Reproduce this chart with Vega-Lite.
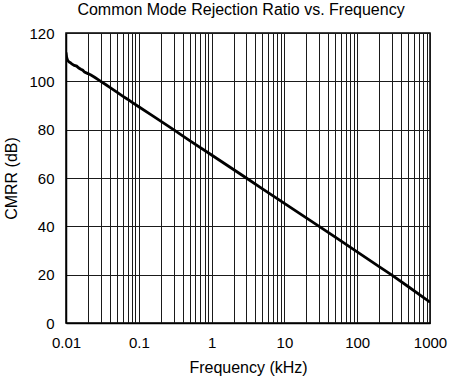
{
  "$schema": "https://vega.github.io/schema/vega-lite/v6.json",
  "width": 364,
  "height": 290,
  "autosize": "none",
  "padding": {"left": 66, "top": 33, "right": 19, "bottom": 56},
  "background": "white",
  "config": {
    "font": "Liberation Sans",
    "view": {"stroke": "black", "strokeWidth": 1.5},
    "axis": {
      "gridColor": "#1a1a1a",
      "gridWidth": 1,
      "gridOpacity": 1,
      "domainColor": "black",
      "domainWidth": 1.5,
      "ticks": false,
      "labelFont": "Liberation Sans",
      "labelFontSize": 15,
      "labelColor": "black",
      "titleFont": "Liberation Sans",
      "titleFontSize": 16,
      "titleFontWeight": "normal",
      "titleColor": "black"
    }
  },
  "title": {
    "text": "Common Mode Rejection Ratio vs. Frequency",
    "font": "Liberation Sans",
    "fontSize": 16,
    "fontWeight": "normal",
    "color": "black",
    "anchor": "middle",
    "dx": -7,
    "offset": 8
  },
  "data": {
    "values": [
      {"f": 0.01, "cmrr": 112.0},
      {"f": 0.0102, "cmrr": 110.0},
      {"f": 0.0105, "cmrr": 108.8},
      {"f": 0.011, "cmrr": 108.0},
      {"f": 0.0115, "cmrr": 107.7},
      {"f": 0.012, "cmrr": 107.2},
      {"f": 0.013, "cmrr": 106.6},
      {"f": 0.014, "cmrr": 106.3},
      {"f": 0.015, "cmrr": 105.5},
      {"f": 0.016, "cmrr": 105.0},
      {"f": 0.017, "cmrr": 104.6},
      {"f": 0.018, "cmrr": 103.8},
      {"f": 0.02, "cmrr": 103.2},
      {"f": 0.022, "cmrr": 102.6},
      {"f": 0.025, "cmrr": 101.6},
      {"f": 0.028, "cmrr": 100.6},
      {"f": 0.03, "cmrr": 100.0},
      {"f": 0.035, "cmrr": 98.7},
      {"f": 0.04, "cmrr": 97.5},
      {"f": 0.05, "cmrr": 95.5},
      {"f": 0.06, "cmrr": 93.9},
      {"f": 0.07, "cmrr": 92.6},
      {"f": 0.08, "cmrr": 91.4},
      {"f": 0.1, "cmrr": 89.5},
      {"f": 0.15, "cmrr": 86.0},
      {"f": 0.2, "cmrr": 83.5},
      {"f": 0.3, "cmrr": 80.0},
      {"f": 0.5, "cmrr": 75.5},
      {"f": 1, "cmrr": 69.5},
      {"f": 2, "cmrr": 63.5},
      {"f": 3, "cmrr": 60.0},
      {"f": 5, "cmrr": 55.5},
      {"f": 10, "cmrr": 49.5},
      {"f": 20, "cmrr": 43.5},
      {"f": 30, "cmrr": 40.0},
      {"f": 50, "cmrr": 35.5},
      {"f": 100, "cmrr": 29.4},
      {"f": 200, "cmrr": 23.3},
      {"f": 300, "cmrr": 19.8},
      {"f": 500, "cmrr": 15.1},
      {"f": 1000, "cmrr": 8.6}
    ]
  },
  "mark": {"type": "line", "color": "black", "strokeWidth": 2.8, "clip": true},
  "encoding": {
    "x": {
      "field": "f",
      "type": "quantitative",
      "scale": {"type": "log", "domain": [0.01, 1000], "nice": false},
      "axis": {
        "title": "Frequency (kHz)",
        "titlePadding": 9,
        "labelPadding": 12,
        "format": "~g",
        "labelFlush": false,
        "labelOverlap": false,
        "values": [0.01,0.02,0.03,0.04,0.05,0.06,0.07,0.08,0.09,0.1,0.2,0.3,0.4,0.5,0.6,0.7,0.8,0.9,1,2,3,4,5,6,7,8,9,10,20,30,40,50,60,70,80,90,100,200,300,400,500,600,700,800,900,1000],
        "labelExpr": "indexof(['0.01','0.1','1','10','100','1000'], datum.label) >= 0 ? datum.label : ''"
      }
    },
    "y": {
      "field": "cmrr",
      "type": "quantitative",
      "scale": {"domain": [0, 120], "nice": false},
      "axis": {
        "title": "CMRR (dB)",
        "titlePadding": 9,
        "labelPadding": 12,
        "values": [0, 20, 40, 60, 80, 100, 120]
      }
    }
  }
}
